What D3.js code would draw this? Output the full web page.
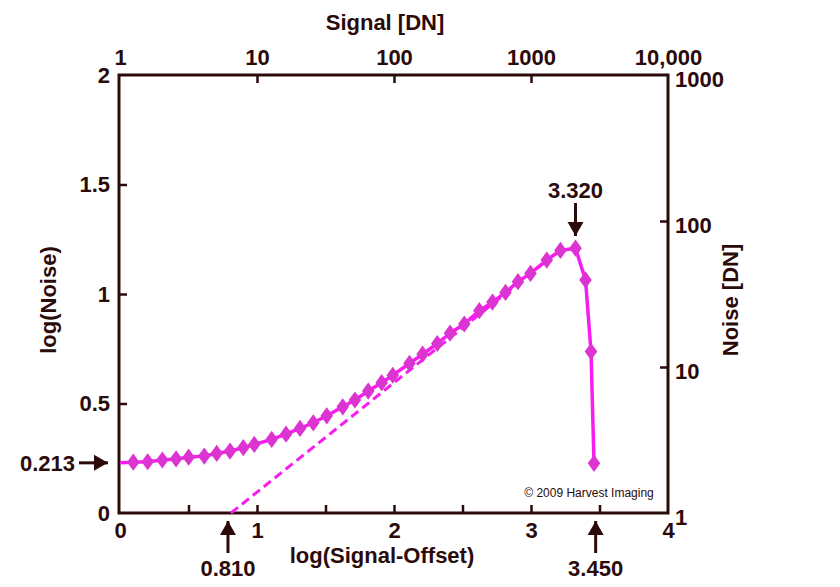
<!DOCTYPE html>
<html>
<head>
<meta charset="utf-8">
<script src="https://cdn.jsdelivr.net/npm/d3@7"></script>
<style>
  body { margin: 0; background: #fff; }
  svg { display: block; font-family: "Liberation Sans", Arial, sans-serif; }
</style>
</head>
<body>
<svg id="chart" width="840" height="587"></svg>
<script>
// log(Signal-Offset) vs log(Noise)
const logSignal = [0, 0.097, 0.202, 0.309, 0.409, 0.501, 0.615, 0.706, 0.803, 0.900, 0.980,
  1.107, 1.212, 1.314, 1.411, 1.509, 1.626, 1.715, 1.812, 1.910, 1.991,
  2.113, 2.209, 2.316, 2.409, 2.513, 2.623, 2.719, 2.814, 2.905, 2.996,
  3.115, 3.215, 3.325, 3.398, 3.438, 3.460];
const logNoise = [0.229, 0.232, 0.234, 0.242, 0.247, 0.255, 0.260, 0.272, 0.283, 0.298, 0.313,
  0.336, 0.360, 0.386, 0.412, 0.444, 0.485, 0.516, 0.557, 0.595, 0.629,
  0.683, 0.725, 0.774, 0.821, 0.863, 0.924, 0.963, 1.007, 1.056, 1.094,
  1.155, 1.199, 1.209, 1.064, 0.737, 0.227];

// shot-noise fit (slope 1/2)
const fitX = [0.810, 3.2];
const fitY = [0, 1.195];

const bottomTicks = [0.5, 1, 1.5, 2, 2.5, 3, 3.5];
const bottomLabels = [0, 1, 2, 3, 4];
const leftTicks = [0.5, 1, 1.5];
const leftLabels = [0, 0.5, 1, 1.5, 2];
const topLabels = [1, 10, 100, 1000, 10000];
const rightLabels = [1, 10, 100, 1000];

const ink = "#2b0a0a";
const magenta = "#f81cf0";
const markerFill = "#dc34d0";
const fs = 22;

const svg = d3.select("#chart");
const pLeft = 119, pRight = 668, pTop = 75, pBottom = 513;

const x = d3.scaleLinear().domain([0, 4]).range([120, pRight]);
const y = d3.scaleLinear().domain([0, 2]).range([pBottom, pTop]);
const xTop = d3.scaleLog().domain([1, 10000]).range([120, pRight]);
const yRight = d3.scaleLog().domain([1, 1000]).range([pBottom, pTop]);

const topFmt = d => d >= 10000 ? d3.format(",")(d) : String(d);

// ticks (inward)
svg.append("g").attr("transform", `translate(0,${pBottom})`)
  .call(d3.axisBottom(x).tickValues(bottomTicks).tickSize(-8).tickFormat(""));
svg.append("g").attr("transform", `translate(${pLeft},0)`)
  .call(d3.axisLeft(y).tickValues(leftTicks).tickSize(-8).tickFormat(""));
svg.append("g").attr("transform", `translate(0,${pTop})`)
  .call(d3.axisTop(xTop).tickValues([10, 100, 1000]).tickSize(-8).tickFormat(""));
svg.append("g").attr("transform", `translate(${pRight},0)`)
  .call(d3.axisRight(yRight).tickValues([10, 100]).tickSize(-8).tickFormat(""));

// labels
svg.append("g").attr("transform", `translate(0,${pBottom})`)
  .call(d3.axisBottom(x).tickValues(bottomLabels).tickSize(0).tickPadding(9).tickFormat(d3.format("d")));
svg.append("g").attr("transform", `translate(${pLeft - 5},0)`)
  .call(d3.axisLeft(y).tickValues(leftLabels).tickSize(0).tickPadding(4).tickFormat(d => d));
svg.append("g").attr("transform", `translate(0,${pTop - 8})`)
  .call(d3.axisTop(xTop).tickValues(topLabels).tickSize(0).tickPadding(2).tickFormat(topFmt));
svg.append("g").attr("transform", `translate(${pRight + 5},4)`)
  .call(d3.axisRight(yRight).tickValues(rightLabels).tickSize(0).tickPadding(2).tickFormat(d => d));

svg.selectAll(".domain").remove();
svg.selectAll(".tick line").attr("stroke", ink).attr("stroke-width", 2.5);
svg.selectAll(".tick text").attr("fill", ink).style("font-size", fs + "px").style("font-weight", "bold")
  .style("font-family", "'Liberation Sans', Arial, sans-serif");

// frame
svg.append("rect")
  .attr("x", pLeft).attr("y", pTop)
  .attr("width", pRight - pLeft).attr("height", pBottom - pTop)
  .attr("fill", "none").attr("stroke", ink).attr("stroke-width", 3);

// dashed fit line
svg.append("path")
  .datum(d3.zip(fitX, fitY))
  .attr("d", d3.line().x(d => x(d[0])).y(d => y(d[1])))
  .attr("fill", "none").attr("stroke", magenta).attr("stroke-width", 3)
  .attr("stroke-dasharray", "9,5");

// measured curve
const pts = d3.zip(logSignal, logNoise);
svg.append("path")
  .datum(pts)
  .attr("d", d3.line().x(d => x(d[0])).y(d => y(d[1])))
  .attr("fill", "none").attr("stroke", magenta).attr("stroke-width", 3.5);

svg.selectAll(".mk")
  .data(pts.slice(1))
  .enter()
  .append("path")
  .attr("class", "mk")
  .attr("d", d3.symbol(d3.symbolDiamond, 95)())
  .attr("transform", d => `translate(${x(d[0])},${y(d[1])}) scale(1.2,0.95)`)
  .attr("fill", markerFill);

function arrow(x1, y1, x2, y2) {
  svg.append("line")
    .attr("x1", x1).attr("y1", y1).attr("x2", x2).attr("y2", y2)
    .attr("stroke", ink).attr("stroke-width", 3);
  const ang = Math.atan2(y2 - y1, x2 - x1);
  const L = 14, W = 8;
  const bx = x2 - L * Math.cos(ang), by = y2 - L * Math.sin(ang);
  const px = -Math.sin(ang) * W, py = Math.cos(ang) * W;
  svg.append("path")
    .attr("d", `M${x2},${y2} L${bx + px},${by + py} L${bx - px},${by - py} Z`)
    .attr("fill", ink);
}

function label(txt, tx, ty, anchor, size, weight) {
  svg.append("text")
    .attr("x", tx).attr("y", ty)
    .attr("text-anchor", anchor)
    .attr("fill", ink)
    .style("font-size", size + "px")
    .style("font-weight", weight || "bold")
    .text(txt);
}

const floorY = y(0.229);
arrow(79, floorY, 108, floorY);
label("0.213", 75, floorY + 8, "end", fs);

const x810 = x(0.810) - 3;
arrow(x810, 553, x810, 521);
label("0.810", x810, 576, "middle", fs);

const x345 = x(3.450) + 3;
arrow(x345, 553, x345, 521);
label("3.450", x345, 576, "middle", fs);

const x332 = x(3.325);
arrow(x332, 203, x332, 236);
label("3.320", x332, 198, "middle", fs);

// axis titles
label("Signal [DN]", 385, 30, "middle", fs);
label("log(Signal-Offset)", 382, 563, "middle", fs);

svg.append("text")
  .attr("transform", "translate(56,300) rotate(-90)")
  .attr("text-anchor", "middle").attr("fill", ink)
  .style("font-size", fs + "px").style("font-weight", "bold")
  .text("log(Noise)");

svg.append("text")
  .attr("transform", "translate(738,300) rotate(-90)")
  .attr("text-anchor", "middle").attr("fill", ink)
  .style("font-size", fs + "px").style("font-weight", "bold")
  .text("Noise [DN]");

label("\u00a9 2009 Harvest Imaging", 589, 497, "middle", 12, "normal");
</script>
</body>
</html>
